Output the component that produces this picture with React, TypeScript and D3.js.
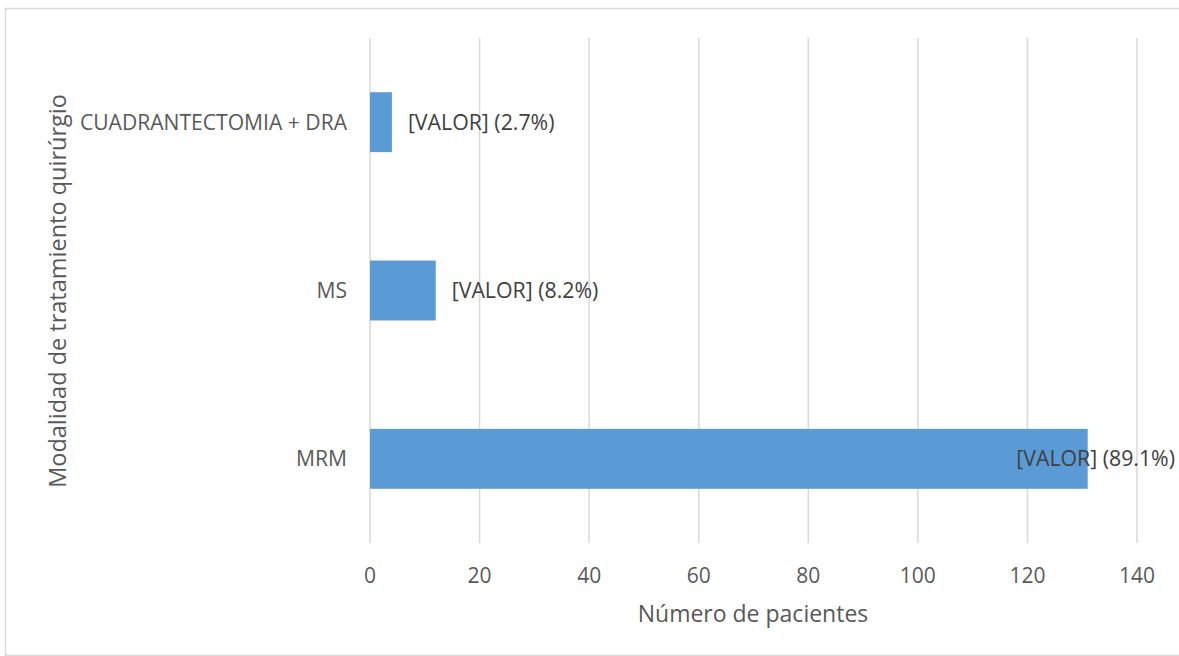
import React from "react";
import * as d3 from "d3";

const categories = ["CUADRANTECTOMIA + DRA", "MS", "MRM"];
const values = [4, 12, 131];
const percents = ["2.7%", "8.2%", "89.1%"];
const xTicks = [0, 20, 40, 60, 80, 100, 120, 140];

const W = 1179;
const H = 656;
const FONT = "'Open Sans', 'Noto Sans', sans-serif";

export default function App() {
  const x = d3.scaleLinear().domain([0, 140]).range([370, 1137]);
  const y = d3
    .scaleBand<string>()
    .domain(categories)
    .range([38, 543])
    .paddingInner(0.644)
    .paddingOuter(0.322);
  const chartRight = 1175;
  const estW = 160;

  return (
    <svg
      width={W}
      height={H}
      style={{ position: "fixed", left: 0, top: 0, background: "#fff" }}
      fontFamily={FONT}
    >
      <rect x={5.5} y={8.5} width={1200} height={647} fill="#fff" stroke="#d9d9d9" strokeWidth={1.5} />
      {xTicks.map((t) => (
        <line key={t} x1={x(t)} x2={x(t)} y1={38} y2={543} stroke="#d9d9d9" strokeWidth={1.5} />
      ))}
      {categories.map((c, i) => (
        <rect
          key={c}
          x={x(0)}
          y={y(c)}
          width={x(values[i]) - x(0)}
          height={y.bandwidth()}
          fill="#5B9BD5"
        />
      ))}
      {categories.map((c, i) => {
        const lx = x(values[i]) + 16;
        const overflow = lx + estW > chartRight;
        return (
          <text
            key={c + "l"}
            x={overflow ? chartRight : lx}
            y={(y(c) as number) + y.bandwidth() / 2}
            dy="0.35em"
            textAnchor={overflow ? "end" : "start"}
            fontSize={21.3}
            fill="#404040"
          >
            {`[VALOR] (${percents[i]})`}
          </text>
        );
      })}
      {categories.map((c) => (
        <text
          key={c + "c"}
          x={347}
          y={(y(c) as number) + y.bandwidth() / 2}
          dy="0.35em"
          textAnchor="end"
          fontSize={21.1}
          fill="#595959"
        >
          {c}
        </text>
      ))}
      {xTicks.map((t) => (
        <text key={t + "t"} x={x(t)} y={576} dy="0.35em" textAnchor="middle" fontSize={21} fill="#595959">
          {t}
        </text>
      ))}
      <text x={753} y={614} dy="0.35em" textAnchor="middle" fontSize={23} fill="#595959">
        Número de pacientes
      </text>
      <text
        transform={`translate(58,291) rotate(-90)`}
        dy="0.35em"
        textAnchor="middle"
        fontSize={23.5}
        fill="#595959"
      >
        Modalidad de tratamiento quirúrgio
      </text>
    </svg>
  );
}
